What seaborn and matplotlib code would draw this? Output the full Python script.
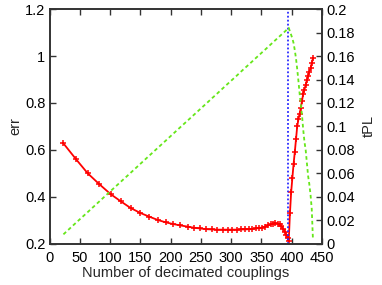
import numpy as np
import pandas as pd
import seaborn as sns
from matplotlib import pyplot as plt
from matplotlib.ticker import FuncFormatter

# values
couplings = [23, 44, 63, 82, 101, 118, 134, 150, 165, 179, 192, 204, 216, 228, 239,
             249, 259, 268, 277, 286, 294, 302, 309, 316, 323, 329, 335, 341, 346, 351,
             356, 361, 365, 369, 373, 377, 380, 383, 386, 389, 391, 393, 395, 397, 399,
             401, 403, 405, 407, 409, 411, 413, 415, 417, 419, 421, 423, 425, 427, 429,
             431, 433, 435]
err = [0.628, 0.560, 0.501, 0.455, 0.412, 0.381, 0.353, 0.332, 0.316, 0.302, 0.292,
       0.285, 0.279, 0.274, 0.269, 0.266, 0.263, 0.262, 0.261, 0.261, 0.261, 0.261,
       0.261, 0.262, 0.262, 0.263, 0.264, 0.266, 0.268, 0.270, 0.274, 0.279, 0.283,
       0.286, 0.288, 0.287, 0.283, 0.275, 0.264, 0.252, 0.240, 0.225, 0.212, 0.33,
       0.42, 0.48, 0.54, 0.59, 0.645, 0.70, 0.73, 0.755, 0.78, 0.81, 0.84, 0.857,
       0.877, 0.898, 0.915, 0.932, 0.948, 0.969, 0.99]
tpl = [0.0082, 0.0182, 0.0271, 0.0361, 0.0451, 0.0531, 0.0606, 0.0682, 0.0753, 0.0819,
       0.0880, 0.0937, 0.0994, 0.1050, 0.1102, 0.1149, 0.1196, 0.1239, 0.1281, 0.1324,
       0.1362, 0.1399, 0.1432, 0.1466, 0.1499, 0.1527, 0.1555, 0.1584, 0.1607, 0.1631,
       0.1654, 0.1678, 0.1697, 0.1716, 0.1735, 0.1754, 0.1768, 0.1782, 0.1796, 0.1810,
       0.1820, 0.1829, 0.1840, 0.1810, 0.1780, 0.1750, 0.1710, 0.1650, 0.1580, 0.1490,
       0.1390, 0.1280, 0.1190, 0.1090, 0.0970, 0.0870, 0.0800, 0.0690, 0.0580, 0.0510,
       0.0420, 0.0300, 0.0040]
cut = 393

df = pd.DataFrame({'n': couplings, 'err': err, 'tPL': tpl})

sns.set_style('ticks')
plt.rcParams['font.family'] = ['Liberation Sans', 'DejaVu Sans']
plt.rcParams['font.size'] = 10.5

fig = plt.figure(figsize=(3.82, 2.85), dpi=100)
ax = fig.add_axes([0.1296, 0.1439, 0.843 - 0.1296, 0.9684 - 0.1439])
ax2 = ax.twinx()

# seaborn gives markers a white edge by default, so set it to red
sns.lineplot(data=df, x='n', y='err', ax=ax, sort=False, errorbar=None,
             color='#ff0000', linewidth=1.3, marker='+', markersize=4.5,
             markeredgewidth=1.1, markeredgecolor='#ff0000')

sns.lineplot(data=df, x='n', y='tPL', ax=ax2, sort=False, errorbar=None,
             color='#66e61a', linewidth=1.3)
ax2.lines[0].set_dashes((2, 1.6))

ax.axvline(cut, color='#2a2aff', lw=1.3, ls=(0, (1, 1.2)))

ax.set_xlim(0, 450)
ax.set_ylim(0.2, 1.2)
ax2.set_ylim(0, 0.2)
ax.set_xticks(np.arange(0, 451, 50))
ax.set_yticks(np.arange(0.2, 1.21, 0.2))
ax2.set_yticks(np.arange(0, 0.201, 0.02))
fmt = FuncFormatter(lambda v, p: '%g' % round(v, 3))
ax.yaxis.set_major_formatter(fmt)
ax2.yaxis.set_major_formatter(fmt)

ax.set_xlabel('Number of decimated couplings', labelpad=0.5)
ax.set_ylabel('err', labelpad=2)
ax2.set_ylabel('tPL', labelpad=5)

for a in (ax, ax2):
    for s in a.spines.values():
        s.set_color('#333333')
        s.set_linewidth(1.2)
        s.set_visible(True)
ax.tick_params(axis='x', direction='in', top=True, length=4, width=1, pad=5, colors='#333333', labelcolor='black')
ax.tick_params(axis='y', direction='in', right=False, length=4, width=1, pad=3, colors='#333333', labelcolor='black')
ax2.tick_params(axis='y', direction='in', length=4, width=1, pad=3, colors='#333333', labelcolor='black')

fig.savefig('out.png', dpi=100)
